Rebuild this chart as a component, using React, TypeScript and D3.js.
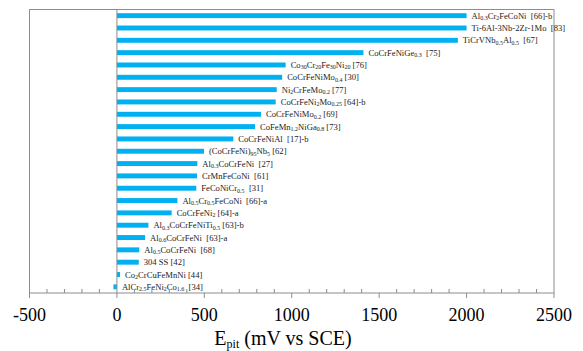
import * as d3 from "d3";

// alloy labels, top to bottom; _{..} marks a subscript
const alloys = [
  "Al_{0.3}Cr_{2}FeCoNi  [66]-b",
  "Ti-6Al-3Nb-2Zr-1Mo  [83]",
  "TiCrVNb_{0.5}Al_{0.5}  [67]",
  "CoCrFeNiGe_{0.3}  [75]",
  "Co_{30}Cr_{20}Fe_{30}Ni_{20} [76]",
  "CoCrFeNiMo_{0.4} [30]",
  "Ni_{2}CrFeMo_{0.2} [77]",
  "CoCrFeNi_{2}Mo_{0.25} [64]-b",
  "CoCrFeNiMo_{0.2} [69]",
  "CoFeMn_{1.2}NiGa_{0.8} [73]",
  "CoCrFeNiAl  [17]-b",
  "(CoCrFeNi)_{95}Nb_{5} [62]",
  "Al_{0.3}CoCrFeNi  [27]",
  "CrMnFeCoNi  [61]",
  "FeCoNiCr_{0.5}  [31]",
  "Al_{0.5}Cr_{0.5}FeCoNi  [66]-a",
  "CoCrFeNi_{2} [64]-a",
  "Al_{0.3}CoCrFeNiTi_{0.5} [63]-b",
  "Al_{0.6}CoCrFeNi  [63]-a",
  "Al_{0.5}CoCrFeNi  [68]",
  "304 SS [42]",
  "Co_{2}CrCuFeMnNi [44]",
  "AlCr_{2.5}FeNi_{2}Co_{1.6}  [34]",
];

const epit = [
  2000, 2000, 1950, 1410, 965, 945, 914, 908, 824, 790, 666, 498, 460, 458,
  454, 346, 313, 180, 161, 128, 125, 18, -20,
];

const majorTicks = [-500, 0, 500, 1000, 1500, 2000, 2500];

function parseLabel(s: string) {
  const parts: { t: string; sub: boolean }[] = [];
  const re = /_\{([^}]*)\}/g;
  let last = 0;
  let m: RegExpExecArray | null;
  while ((m = re.exec(s))) {
    if (m.index > last) parts.push({ t: s.slice(last, m.index), sub: false });
    parts.push({ t: m[1], sub: true });
    last = m.index + m[0].length;
  }
  if (last < s.length) parts.push({ t: s.slice(last), sub: false });
  return parts;
}

export default function App() {
  const width = 583;
  const height = 351;
  const left = 29.5;
  const right = 554;
  const top = 9.5;
  const bottom = 293;

  const x = d3.scaleLinear().domain([-500, 2500]).range([left, right]);
  const y = d3
    .scaleBand<string>()
    .domain(alloys)
    .range([top, bottom])
    .paddingInner(0.6)
    .paddingOuter(0.3);

  const minorTicks = d3.range(-500, 2501, 100).filter((v) => v % 500 !== 0);
  const serif = {
    fontFamily: "'Times New Roman', 'Liberation Serif', 'DejaVu Serif', serif",
  };
  const axisColor = "#8c8c8c";

  return (
    <svg
      width={width}
      height={height}
      style={{ position: "absolute", left: 0, top: 0, background: "#fff" }}
    >
      {/* frame */}
      <line x1={left} x2={left} y1={top} y2={bottom} stroke={axisColor} />
      <line x1={right} x2={right} y1={top} y2={bottom} stroke={axisColor} />
      <line x1={left} x2={right} y1={top} y2={top} stroke={axisColor} />

      {/* bars */}
      {alloys.map((a, i) => {
        const v = epit[i];
        const x0 = x(Math.min(0, v));
        const x1 = x(Math.max(0, v));
        const yc = (y(a) ?? 0) + y.bandwidth() / 2;
        const bw = Math.max(x1 - x0, 2.5);
        const parts = parseLabel(a);
        return (
          <g key={a}>
            <rect
              x={v < 0 ? x1 - bw : x0}
              y={y(a)}
              width={bw}
              height={y.bandwidth()}
              fill="#00B0F0"
            />
            <text
              x={x(Math.max(v, 0)) + 5}
              y={yc + 3}
              fontSize={8.6}
              fill="#222"
              style={{ ...serif, whiteSpace: "pre" }}
            >
              {parts.map((p, j) =>
                p.sub ? (
                  <tspan key={j} fontSize={6} dy={1.5}>
                    {p.t}
                  </tspan>
                ) : (
                  <tspan key={j} dy={j > 0 && parts[j - 1].sub ? -1.5 : 0}>
                    {p.t}
                  </tspan>
                ),
              )}
            </text>
          </g>
        );
      })}

      {/* zero line */}
      <line x1={x(0)} x2={x(0)} y1={top} y2={bottom} stroke={axisColor} />

      {/* x axis */}
      <line x1={left} x2={right} y1={bottom} y2={bottom} stroke={axisColor} />
      {minorTicks.map((t) => (
        <line
          key={t}
          x1={x(t)}
          x2={x(t)}
          y1={bottom - 4}
          y2={bottom}
          stroke={axisColor}
        />
      ))}
      {majorTicks.map((t) => (
        <g key={t}>
          <line
            x1={x(t)}
            x2={x(t)}
            y1={bottom}
            y2={bottom + 5}
            stroke={axisColor}
          />
          <text
            x={x(t)}
            y={321}
            textAnchor="middle"
            fontSize={18}
            fill="#000"
            style={serif}
          >
            {t}
          </text>
        </g>
      ))}

      {/* axis title */}
      <text
        x={283}
        y={345}
        textAnchor="middle"
        fontSize={20}
        fill="#000"
        style={serif}
      >
        E
        <tspan fontSize={12} dy={3}>
          pit
        </tspan>
        <tspan dy={-3}> (mV vs SCE)</tspan>
      </text>
    </svg>
  );
}
